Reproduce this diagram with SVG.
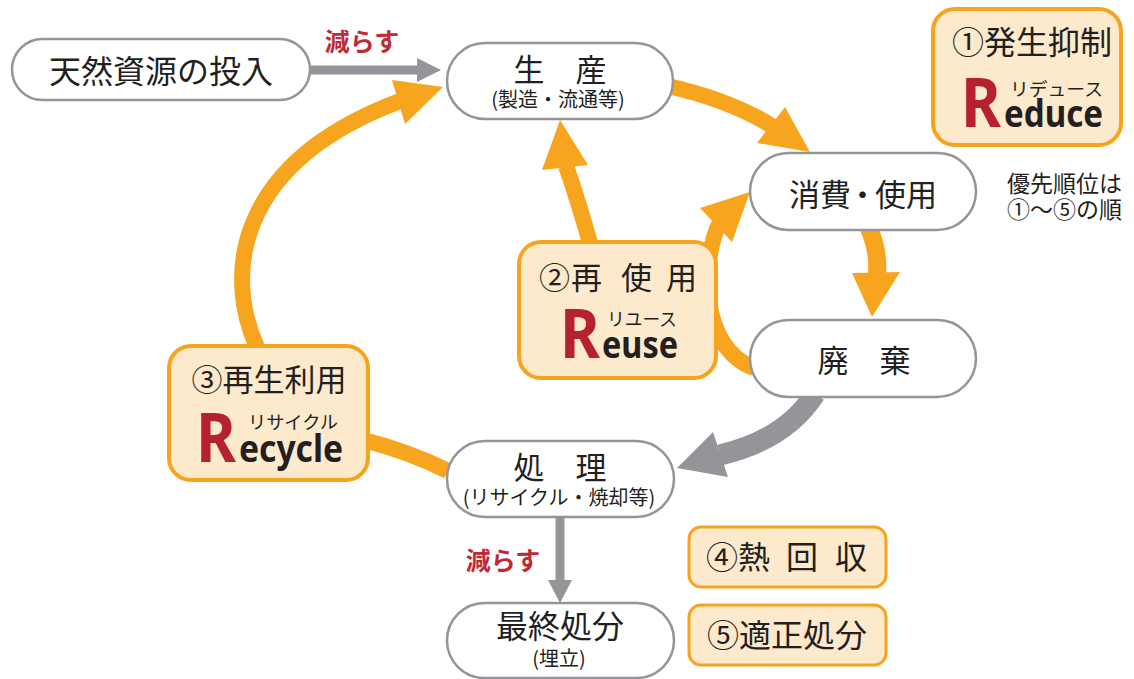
<svg xmlns="http://www.w3.org/2000/svg" width="1134" height="679" viewBox="0 0 1134 679">
<style>
.jp{font-family:"Noto Sans CJK JP","Noto Sans",sans-serif;fill:#231f20}
.pill{fill:#fff;stroke:#939598;stroke-width:2.5}
.box{fill:#fde9cc;stroke:#f6a41e;stroke-width:4}
.sbox{fill:#fde9cc;stroke:#f6a41e;stroke-width:3}
.ob{fill:none;stroke:#f7a51e;stroke-width:16}
.oh{fill:#f7a51e}
.gb{fill:none;stroke:#939598}
.gh{fill:#939598}
.red{font-family:"Noto Sans CJK JP",sans-serif;fill:#bf2a35;font-weight:bold}
.R{font-family:"Noto Sans",sans-serif;font-weight:bold;fill:#b5222e}
.en{font-family:"Noto Sans",sans-serif;font-weight:bold;fill:#231f20}
</style>
<rect width="1134" height="679" fill="#fff"/>
<g id="connectors">
  <!-- recycle loop -->
  <path class="ob" d="M448,471 Q410,452 364,440"/>
  <path class="ob" d="M257,347 C226,280 230,165 400,101"/>
  <polygon class="oh" points="392,80 443,87 405,124"/>
  <!-- production to consumption -->
  <path class="ob" d="M668,86 Q730,100 772,126"/>
  <polygon class="oh" points="785,107 810,152 757,143"/>
  <!-- consumption to disposal -->
  <path class="ob" style="stroke-width:18" d="M868,226 Q879,250 877,274"/>
  <polygon class="oh" points="852,273 900,272 872,317"/>
  <!-- reuse -->
  <path class="ob" d="M592,250 Q578,200 566,166"/>
  <polygon class="oh" points="542,170 588,165 560,120"/>
  <path class="ob" d="M754,368 C700,348 700,262 720,222"/>
  <polygon class="oh" points="700,208 750,192 732,242"/>
  <!-- gray -->
  <line class="gb" x1="308" y1="70" x2="419" y2="70" stroke-width="9"/>
  <polygon class="gh" points="417,58 441,70 417,82"/>
  <path class="gb" stroke-width="21" d="M815,394 Q785,440 720,455"/>
  <polygon class="gh" points="713,432 728,477 677,468"/>
  <line class="gb" x1="560" y1="515" x2="560" y2="582" stroke-width="9"/>
  <polygon class="gh" points="548,580 572,580 560,603"/>
  <text class="red" x="362" y="51" font-size="25" text-anchor="middle">減らす</text>
  <text class="red" x="503" y="570" font-size="25" text-anchor="middle">減らす</text>
</g>
<g id="node-natural">
  <rect class="pill" x="12" y="39" width="298" height="61" rx="30.5"/>
  <text class="jp" x="161" y="83" font-size="32" text-anchor="middle">天然資源の投入</text>
</g>
<g id="node-production">
  <rect class="pill" x="447" y="43" width="226" height="76" rx="38"/>
  <text class="jp" x="560" y="81" font-size="31" text-anchor="middle">生　産</text>
  <text class="jp" x="558" y="107" font-size="20" text-anchor="middle">(製造・流通等)</text>
</g>
<g id="node-consumption">
  <rect class="pill" x="750" y="153" width="226" height="77" rx="38.5"/>
  <text class="jp" y="206" font-size="31"><tspan x="789">消費</tspan><tspan x="847">・</tspan><tspan x="875">使用</tspan></text>
</g>
<g id="node-disposal">
  <rect class="pill" x="750" y="320" width="226" height="77" rx="38.5"/>
  <text class="jp" x="864" y="372" font-size="31" text-anchor="middle">廃　棄</text>
</g>
<g id="node-treatment">
  <rect class="pill" x="447" y="441" width="227" height="76" rx="38"/>
  <text class="jp" x="560" y="479" font-size="31" text-anchor="middle">処　理</text>
  <text class="jp" x="559" y="505" font-size="20" text-anchor="middle">(リサイクル・焼却等)</text>
</g>
<g id="node-final">
  <rect class="pill" x="447" y="603" width="227" height="75" rx="37.5"/>
  <text class="jp" x="560" y="638" font-size="32" text-anchor="middle">最終処分</text>
  <text class="jp" x="559" y="666" font-size="20" text-anchor="middle">(埋立)</text>
</g>
<g id="node-reduce">
  <rect class="box" x="933" y="9" width="188" height="136" rx="22"/>
  <text class="jp" x="1032" y="54" font-size="32" text-anchor="middle">①発生抑制</text>
  <text class="R" x="961" y="127" font-size="68" textLength="40" lengthAdjust="spacingAndGlyphs">R</text>
  <text class="jp" x="1010" y="96" font-size="18" textLength="93" lengthAdjust="spacingAndGlyphs">リデュース</text>
  <text class="en" x="1004" y="127" font-size="37" textLength="99" lengthAdjust="spacingAndGlyphs">educe</text>
</g>
<g id="node-reuse">
  <rect class="box" x="519" y="242" width="197" height="136" rx="22"/>
  <text class="jp" y="289" font-size="31"><tspan x="539">②</tspan><tspan x="571">再</tspan><tspan x="621">使</tspan><tspan x="666">用</tspan></text>
  <text class="R" x="560" y="358" font-size="68" textLength="40" lengthAdjust="spacingAndGlyphs">R</text>
  <text class="jp" x="607" y="326" font-size="18" textLength="70" lengthAdjust="spacingAndGlyphs">リユース</text>
  <text class="en" x="602" y="358" font-size="38" textLength="76" lengthAdjust="spacingAndGlyphs">euse</text>
</g>
<g id="node-recycle">
  <rect class="box" x="169" y="346" width="199" height="134" rx="22"/>
  <text class="jp" x="269" y="391" font-size="31" text-anchor="middle">③再生利用</text>
  <text class="R" x="196" y="462" font-size="68" textLength="40" lengthAdjust="spacingAndGlyphs">R</text>
  <text class="jp" x="248" y="429" font-size="18" textLength="90" lengthAdjust="spacingAndGlyphs">リサイクル</text>
  <text class="en" x="239" y="462" font-size="37" textLength="104" lengthAdjust="spacingAndGlyphs">ecycle</text>
</g>
<g id="node-heat">
  <rect class="sbox" x="689" y="527" width="197" height="60" rx="12"/>
  <text class="jp" y="569" font-size="32"><tspan x="706">④</tspan><tspan x="738">熱</tspan><tspan x="786">回</tspan><tspan x="835">収</tspan></text>
</g>
<g id="node-proper">
  <rect class="sbox" x="689" y="605" width="197" height="60" rx="12"/>
  <text class="jp" x="787" y="647" font-size="32" text-anchor="middle">⑤適正処分</text>
</g>
<g id="note">
  <text class="jp" x="1007" y="192" font-size="23">優先順位は</text>
  <text class="jp" x="1007" y="218" font-size="23">①〜⑤の順</text>
</g>
</svg>
